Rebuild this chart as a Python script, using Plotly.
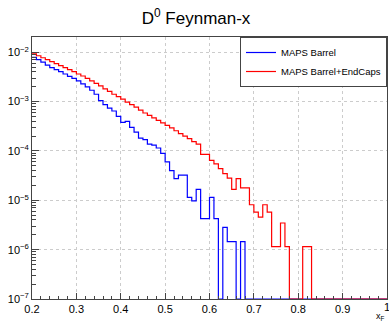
import plotly.graph_objects as go

# Histogram binning (80 bins of 0.01 from 0.2 to 1.0)
bin_lo = 0.2
bin_width = 0.01
n_bins = 80

# MAPS Barrel (blue) bin contents (0 = empty bin)
barrel = [
    7.94e-3, 7.08e-3, 6.31e-3, 5.50e-3, 4.90e-3, 4.47e-3, 4.07e-3, 3.63e-3, 3.24e-3, 2.95e-3,
    2.63e-3, 2.29e-3, 2.00e-3, 1.70e-3, 1.41e-3, 1.05e-3, 8.71e-4, 7.41e-4, 6.46e-4, 5.01e-4,
    3.80e-4, 3.98e-4, 3.02e-4, 2.40e-4, 1.82e-4, 1.70e-4, 1.38e-4, 1.32e-4, 1.15e-4, 8.91e-5,
    6.03e-5, 3.98e-5, 2.75e-5, 3.24e-5, 3.24e-5, 1.15e-5, 9.77e-6, 1.66e-5, 4.27e-6, 4.27e-6,
    1.15e-5, 4.27e-6, 0, 2.82e-6, 1.45e-6, 1.45e-6, 0, 1.45e-6, 0, 0,
    0, 0, 0, 0, 0, 0, 0, 0, 0, 0,
    0, 0, 0, 0, 0, 0, 0, 0, 0, 0,
    0, 0, 0, 0, 0, 0, 0, 0, 0, 0,
]

# MAPS Barrel+EndCaps (red) bin contents
barrel_endcaps = [
    9.33e-3, 8.51e-3, 7.76e-3, 7.08e-3, 6.46e-3, 5.89e-3, 5.37e-3, 4.90e-3, 4.47e-3, 4.07e-3,
    3.63e-3, 3.31e-3, 2.95e-3, 2.63e-3, 2.34e-3, 2.09e-3, 1.82e-3, 1.62e-3, 1.41e-3, 1.26e-3,
    1.12e-3, 9.77e-4, 8.71e-4, 7.76e-4, 6.76e-4, 5.89e-4, 5.25e-4, 4.68e-4, 4.17e-4, 3.72e-4,
    3.31e-4, 2.95e-4, 2.57e-4, 2.24e-4, 2.00e-4, 1.78e-4, 1.55e-4, 1.38e-4, 8.51e-5, 8.51e-5,
    6.46e-5, 5.50e-5, 4.37e-5, 3.47e-5, 2.82e-5, 1.66e-5, 2.75e-5, 1.78e-5, 1.78e-5, 8.13e-6,
    5.75e-6, 4.57e-6, 8.13e-6, 5.75e-6, 1.15e-6, 1.15e-6, 3.47e-6, 1.15e-6, 0, 0,
    0, 1.15e-6, 1.15e-6, 0, 0, 0, 0, 0, 0, 0,
    0, 0, 0, 0, 0, 0, 0, 0, 0, 0,
]

series_names = ["MAPS Barrel", "MAPS Barrel+EndCaps"]
series_colors = ["#0000ff", "#ff0000"]

x_ticks = [0.2, 0.3, 0.4, 0.5, 0.6, 0.7, 0.8, 0.9, 1.0]
x_ticklabels = ["0.2", "0.3", "0.4", "0.5", "0.6", "0.7", "0.8", "0.9", "1"]
y_exponents = [-7, -6, -5, -4, -3, -2]

y_floor_exp = -7
y_top_exp = -1.69
floor = 10 ** y_floor_exp

edges = [bin_lo + bin_width * i for i in range(n_bins + 1)]


def step_xy(vals):
    ys = [v if v > 0 else floor for v in vals]
    return edges, ys + [ys[-1]]


fig = go.Figure()
for vals, name, col in zip([barrel, barrel_endcaps], series_names, series_colors):
    xs, ys = step_xy(vals)
    fig.add_trace(go.Scatter(x=xs, y=ys, mode="lines", name=name,
                             line=dict(color=col, width=1.2, shape="hv")))

y_tickvals = [10 ** e for e in y_exponents]
y_ticktext = ["10<sup>\u2212%d</sup>" % (-e) for e in y_exponents]
y_minor = [k * 10 ** e for e in range(-7, -1) for k in range(2, 10) if k * 10 ** e <= 10 ** y_top_exp]

# the last x label sits on the canvas edge; draw it as an annotation so it is kept (partly clipped)
shown_x_text = x_ticklabels[:-1] + [""]

font_family = "Liberation Sans, Arial, sans-serif"

fig.update_layout(
    width=389, height=322,
    margin=dict(l=32, r=2, t=37, b=23),
    paper_bgcolor="white", plot_bgcolor="white",
    font=dict(family=font_family, color="black"),
    title=dict(text="D<sup>0</sup> Feynman-x", x=0.504, xanchor="center",
               y=1 - 18 / 322, yanchor="middle", font=dict(size=17, color="black")),
    showlegend=True,
    legend=dict(x=1, xanchor="right", y=1, yanchor="top", bgcolor="white",
                bordercolor="#444", borderwidth=1, font=dict(size=9.5),
                itemwidth=30, tracegroupgap=0),
    xaxis=dict(range=[0.2, 1.0], tickvals=x_ticks, ticktext=shown_x_text,
               ticks="inside", ticklen=6, tickcolor="#444", tickfont=dict(size=11),
               showline=True, linecolor="#444", linewidth=1, mirror=True,
               showgrid=True, gridcolor="#cccccc", griddash="dot", gridwidth=1,
               zeroline=False,
               minor=dict(dtick=0.02, tick0=0.2, ticks="inside", ticklen=3, tickcolor="#444", showgrid=False)),
    yaxis=dict(type="log", range=[y_floor_exp, y_top_exp], tickvals=y_tickvals, ticktext=y_ticktext,
               ticks="inside", ticklen=7, tickcolor="#444", tickfont=dict(size=11),
               showline=True, linecolor="#444", linewidth=1, mirror=True,
               showgrid=True, gridcolor="#cccccc", griddash="dot", gridwidth=1,
               zeroline=False,
               minor=dict(tickvals=y_minor, ticks="inside", ticklen=4, tickcolor="#444", showgrid=False)),
    annotations=[
        dict(text="x<sub>F</sub>", xref="paper", yref="paper", x=1.0, xanchor="right",
             y=-(316 - 299) / 262, yanchor="middle", showarrow=False,
             font=dict(size=9, color="black")),
        dict(text=x_ticklabels[-1], xref="x", yref="paper", x=x_ticks[-1], xanchor="center",
             y=-(307 - 299) / 262, yanchor="middle", showarrow=False,
             font=dict(size=11, color="black")),
    ],
)

fig.write_html("out.html", config={"displayModeBar": False},
               post_script="document.body.style.margin='0';document.body.style.overflow='hidden';")
